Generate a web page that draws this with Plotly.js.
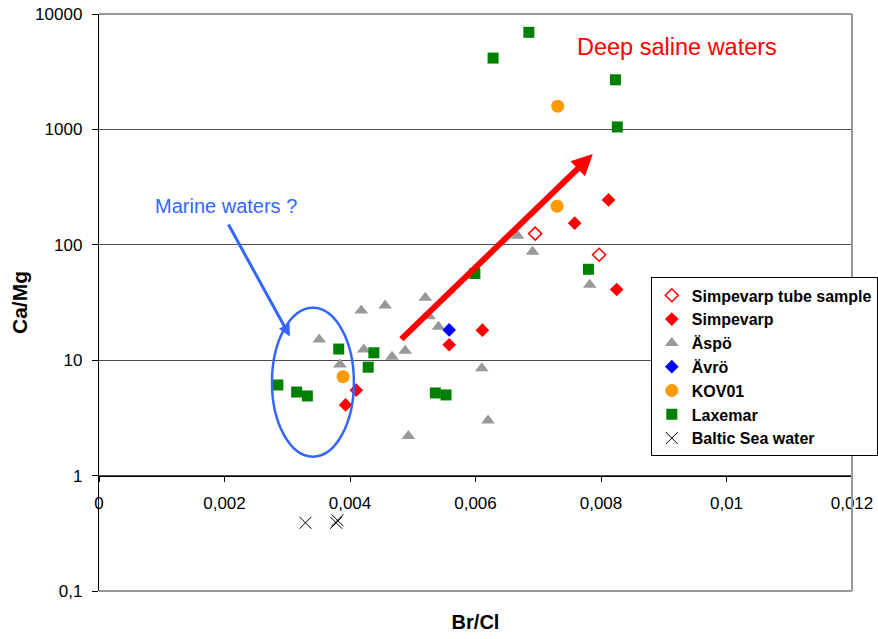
<!DOCTYPE html>
<html>
<head>
<meta charset="utf-8">
<script src="https://cdn.plot.ly/plotly-3.0.1.min.js"></script>
<style>
  html, body { margin: 0; padding: 0; background: #fff; }
  #chart { width: 878px; height: 639px; }
</style>
</head>
<body>
<div id="chart"></div>
<script>
// Br/Cl against Ca/Mg for groundwater groups
const tubeX = [0.00695, 0.00797];
const tubeY = [125, 82];

const simpevarpX = [0.00812, 0.00758, 0.00825, 0.00611, 0.00558, 0.00410, 0.00393];
const simpevarpY = [245, 154, 41, 18.2, 13.6, 5.5, 4.1];

const aspoX = [0.00520, 0.00456, 0.00418, 0.00526, 0.00541, 0.00351, 0.00422, 0.00488,
               0.00467, 0.00384, 0.00610, 0.00620, 0.00493, 0.00667, 0.00691, 0.00782];
const aspoY = [34.7, 29.8, 26.9, 24.0, 19.5, 15.1, 12.4, 12.1,
               10.7, 9.2, 8.5, 3.0, 2.2, 120, 87, 45];

const avroX = [0.00558];
const avroY = [18.3];

const kov01X = [0.00731, 0.00730, 0.00389];
const kov01Y = [1590, 216, 7.2];

const laxemarX = [0.00685, 0.00628, 0.00823, 0.00826, 0.00599, 0.00780, 0.00382,
                  0.00438, 0.00429, 0.00285, 0.00315, 0.00332, 0.00536, 0.00553];
const laxemarY = [6940, 4150, 2690, 1050, 56.4, 61.4, 12.5,
                  11.6, 8.7, 6.1, 5.3, 4.9, 5.2, 5.0];

const balticX = [0.00329, 0.00378, 0.00380];
const balticY = [0.39, 0.39, 0.41];

const xTickVals = [0, 0.002, 0.004, 0.006, 0.008, 0.010, 0.012];
const xTickText = ['0', '0,002', '0,004', '0,006', '0,008', '0,01', '0,012'];
const yTickVals = [0.1, 1, 10, 100, 1000, 10000];
const yTickText = ['0,1', '1', '10', '100', '1000', '10000'];

const FONT = 'Liberation Sans, Arial, sans-serif';
const BLUE = '#3366FF';

function series(name, x, y, marker) {
  return { type: 'scatter', mode: 'markers', name: name, x: x, y: y,
           marker: marker, legendgroup: name, cliponaxis: false };
}

const traces = [
  series('Simpevarp tube sample', tubeX, tubeY,
         { symbol: 'diamond-open', size: 10, color: '#FF0000', line: { width: 1.5, color: '#FF0000' } }),
  series('Simpevarp', simpevarpX, simpevarpY,
         { symbol: 'diamond', size: 10.5, color: '#FF0000', line: { width: 0 } }),
  series('Äspö', aspoX, aspoY,
         { symbol: 'triangle-up', size: 12, color: '#999999', line: { width: 0 } }),
  series('Ävrö', avroX, avroY,
         { symbol: 'diamond', size: 10.5, color: '#0000FF', line: { width: 0 } }),
  series('KOV01', kov01X, kov01Y,
         { symbol: 'circle', size: 13, color: '#FF9900', line: { width: 0 } }),
  series('Laxemar', laxemarX, laxemarY,
         { symbol: 'square', size: 11, color: '#008000', line: { width: 0 } }),
  series('Baltic Sea water', balticX, balticY,
         { symbol: 'x-thin-open', size: 12, color: '#000000', line: { width: 1, color: '#000000' } })
];

const layout = {
  width: 878, height: 639,
  margin: { l: 99, r: 26, t: 14, b: 48, autoexpand: false },
  paper_bgcolor: '#FFFFFF', plot_bgcolor: '#FFFFFF',
  font: { family: FONT, size: 16, color: '#000' },
  showlegend: true,
  legend: {
    x: 0.7328, xanchor: 'left', y: 0.5435, yanchor: 'top',
    bgcolor: '#FFFFFF', bordercolor: '#000000', borderwidth: 1,
    font: { family: FONT, size: 16, color: '#000', weight: 'bold' },
    tracegroupgap: 1.2, traceorder: 'normal', itemclick: false
  },
  xaxis: {
    range: [0, 0.012], anchor: 'free', position: 0.2,
    tickvals: xTickVals, ticktext: xTickText,
    ticks: 'outside', ticklen: 5, tickcolor: '#000', tickwidth: 1,
    ticklabelstandoff: 7,
    showline: true, linecolor: '#000', linewidth: 1.2,
    showgrid: false, zeroline: false,
    tickfont: { family: FONT, size: 17, color: '#000' },
    title: { text: 'Br/Cl', font: { family: FONT, size: 20, weight: 'bold', color: '#000' }, standoff: 102 }
  },
  yaxis: {
    type: 'log', range: [-1, 4],
    tickvals: yTickVals, ticktext: yTickText,
    ticks: 'outside', ticklen: 6, tickcolor: '#000', tickwidth: 1,
    ticklabelstandoff: 6,
    showline: true, linecolor: '#000', linewidth: 1.2,
    showgrid: true, gridcolor: '#4d4d4d', gridwidth: 1,
    zeroline: false,
    tickfont: { family: FONT, size: 17, color: '#000' },
    title: { text: 'Ca/Mg', font: { family: FONT, size: 21, weight: 'bold', color: '#000' }, standoff: 1 }
  },
  shapes: [
    // frame on top, right and bottom
    { type: 'line', xref: 'paper', yref: 'paper', x0: 0, x1: 1, y0: 1, y1: 1, line: { color: '#999999', width: 2 } },
    { type: 'line', xref: 'paper', yref: 'paper', x0: 1, x1: 1, y0: 0, y1: 1, line: { color: '#999999', width: 2 } },
    { type: 'line', xref: 'paper', yref: 'paper', x0: 0, x1: 1, y0: 0, y1: 0, line: { color: '#999999', width: 2 } },
    // marine water group outline
    { type: 'circle', xref: 'paper', yref: 'paper', x0: 0.2297, x1: 0.3385, y0: 0.2326, y1: 0.4908,
      line: { color: BLUE, width: 2.5 }, fillcolor: 'rgba(0,0,0,0)' }
  ],
  annotations: [
    { xref: 'paper', yref: 'paper', x: 0.6315, y: 0.9432, xanchor: 'left', yanchor: 'middle',
      text: 'Deep saline waters', showarrow: false, font: { family: FONT, size: 23.5, color: '#FF0000' } },
    { xref: 'paper', yref: 'paper', x: 0.1686, y: 0.6676, xanchor: 'center', yanchor: 'middle',
      text: 'Marine waters ?', showarrow: false, font: { family: FONT, size: 20, color: BLUE } },
    { xref: 'paper', yref: 'paper', x: 0.6558, y: 0.7572, text: '', showarrow: true,
      ax: -193, ay: 186.5, arrowhead: 2, arrowsize: 0.7, arrowwidth: 6, arrowcolor: '#FF0000' },
    { xref: 'paper', yref: 'paper', x: 0.2536, y: 0.4411, text: '', showarrow: true,
      ax: -62.3, ay: -113.4, arrowhead: 2, arrowsize: 0.8, arrowwidth: 3, arrowcolor: BLUE }
  ]
};

Plotly.newPlot('chart', traces, layout, { displayModeBar: false, staticPlot: true });
</script>
</body>
</html>
